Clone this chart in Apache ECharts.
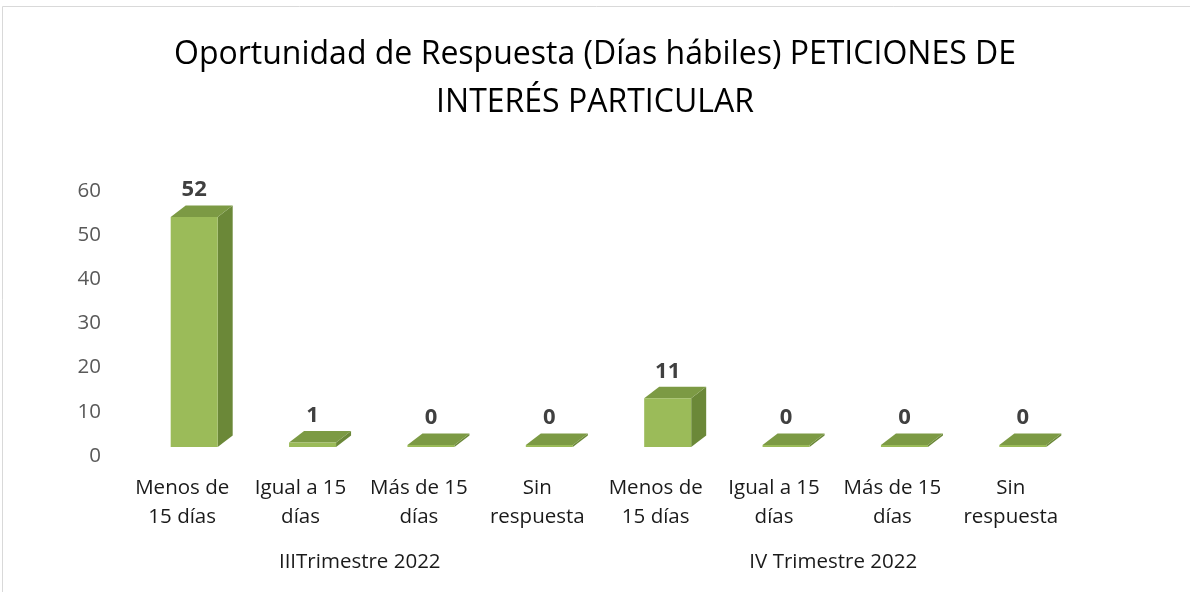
<!DOCTYPE html>
<html><head><meta charset="utf-8">
<script src="https://cdn.jsdelivr.net/npm/echarts@6/dist/echarts.min.js"></script>
<style>html,body{margin:0;padding:0;background:#fff}#c{width:1190px;height:592px}</style>
</head><body><div id="c"></div>
<script>
const categories = ["Menos de\n15 días","Igual a 15\ndías","Más de 15\ndías","Sin\nrespuesta","Menos de\n15 días","Igual a 15\ndías","Más de 15\ndías","Sin\nrespuesta"];
const groups = ["IIITrimestre 2022","IV Trimestre 2022"];
const values = [52, 1, 0, 0, 11, 0, 0, 0];
const yTicks = [0, 10, 20, 30, 40, 50, 60];

const FONT = "Open Sans";
const chart = echarts.init(document.getElementById('c'));

function renderBar(params, api) {
  const i = api.value(0), v = api.value(1);
  const top = api.coord([i, v]);
  const base = api.coord([i, 0]);
  const floorShift = 9;
  const cx = base[0];
  const x0 = cx - 11.5, w = 47, dx = 15, dy = -11.5;
  const yb = base[1] - floorShift;
  let yt = top[1] - floorShift;
  if (yb - yt < 2) yt = yb - 2;
  return {
    type: 'group',
    children: [
      {type:'polygon', shape:{points:[[x0+w,yt],[x0+w+dx,yt+dy],[x0+w+dx,yb+dy],[x0+w,yb]]}, style:{fill:'#6b8838'}},
      {type:'polygon', shape:{points:[[x0,yt],[x0+dx,yt+dy],[x0+w+dx,yt+dy],[x0+w,yt]]}, style:{fill:'#7c9a44'}},
      {type:'rect', shape:{x:x0, y:yt, width:w, height:yb-yt}, style:{fill:'#9bbb59'}},
      {type:'text', style:{text:String(v), x:x0 + w/2, y:yt - 27, align:'center', verticalAlign:'middle',
        font:'bold 22px "' + FONT + '"', fill:'#404040'}}
    ]
  };
}

chart.setOption({
  animation: false,
  title: {
    text: 'Oportunidad de Respuesta (Días hábiles) PETICIONES DE\nINTERÉS PARTICULAR',
    left: 'center', top: 26,
    textStyle: {fontFamily: FONT, fontSize: 32, fontWeight: 'normal', color: '#000', lineHeight: 48}
  },
  graphic: [{type:'rect', shape:{x:2.5, y:6.5, width:1300, height:700}, style:{fill:'none', stroke:'#d9d9d9', lineWidth:1}, silent:true}],
  grid: {left: 123, right: 120, top: 190.7, bottom: 136},
  xAxis: [
    {type:'category', data: categories, axisLine:{show:false}, axisTick:{show:false},
     axisLabel:{interval:0, margin:18, fontFamily:FONT, fontSize:20.5, lineHeight:29, color:'#1a1a1a'}},
    {type:'category', data: groups, position:'bottom', offset:96, axisLine:{show:false}, axisTick:{show:false},
     axisLabel:{interval:0, margin:0, fontFamily:FONT, fontSize:20.5, color:'#1a1a1a'}}
  ],
  yAxis: {type:'value', min: yTicks[0], max: yTicks[yTicks.length-1], interval: 10,
    splitLine:{show:false}, axisLine:{show:false}, axisTick:{show:false},
    axisLabel:{margin:22, fontFamily:FONT, fontSize:20.5, color:'#595959'}},
  series: [{type:'custom', xAxisIndex:0, renderItem: renderBar,
    data: values.map((v, i) => [i, v]), encode:{x:0, y:1}, clip:false}]
});
</script></body></html>
